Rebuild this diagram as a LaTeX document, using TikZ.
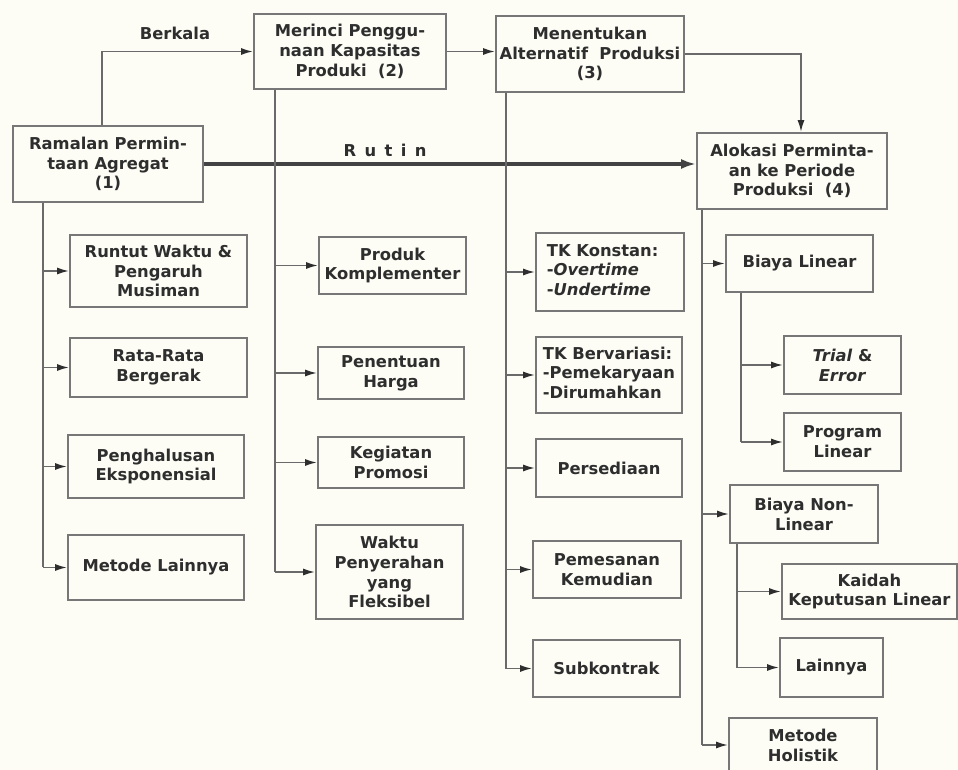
\documentclass[tikz,border=0pt]{standalone}
\usepackage{fontspec}
\setmainfont{DejaVu Sans}
\usetikzlibrary{arrows.meta}
\definecolor{bg}{HTML}{FDFDF6}
\definecolor{txt}{HTML}{2E2E2E}
\definecolor{edge}{HTML}{777777}
\definecolor{wire}{HTML}{6A6A6A}
\tikzset{
  box/.style={draw=edge, line width=1pt, inner sep=0pt, align=center, text=txt,
    font=\fontsize{9.3}{11.3}\selectfont\bfseries},
  wireline/.style={draw=wire, line width=1pt},
  arr/.style={wireline, -{Latex[length=2.4mm,width=1.4mm,color=txt]}},
  bigarr/.style={draw=txt!90, line width=1.8pt, -{Latex[length=3mm,width=2mm]}},
  lbl/.style={text=txt, font=\fontsize{9.3}{11.3}\selectfont\bfseries}
}
% [style]{name}{x1}{y1}{x2}{y2}{text}
\newcommand\boxnode[7][box]{%
  \node[#1, minimum width={(#5-#3)*0.02cm}, minimum height={(#6-#4)*0.02cm}]
    (#2) at ({(#3+#5)/2},{(#4+#6)/2}) {#7};}
\newcommand\leftlines[1]{{\renewcommand\arraystretch{1.0}\setlength\tabcolsep{0pt}\begin{tabular}{l}#1\end{tabular}}}
\begin{document}
\begin{tikzpicture}[x=0.02cm,y=-0.02cm]
\fill[bg] (0,0) rectangle (958,770);
\useasboundingbox (0,0) rectangle (958,770);

% main boxes
\boxnode{b1}{13}{126}{203}{202}{Ramalan Permin-\\taan Agregat\\(1)}
\boxnode{b2}{254}{14}{446}{89}{Merinci Penggu-\\naan Kapasitas\\Produki\ \ (2)}
\boxnode{b3}{496}{16}{684}{92}{Menentukan\\Alternatif\ \ Produksi\\(3)}
\boxnode{b4}{697}{133}{887}{209}{Alokasi Perminta-\\an ke Periode\\Produksi\ \ (4)}

% column 1
\boxnode{a1}{70}{235}{247}{307}{Runtut Waktu \&\\Pengaruh\\Musiman}
\boxnode{a2}{70}{338}{247}{397}{Rata-Rata\\Bergerak}
\boxnode{a3}{68}{435}{244}{498}{Penghalusan\\Eksponensial}
\boxnode{a4}{68}{535}{244}{600}{Metode Lainnya}

% column 2
\boxnode{c1}{319}{237}{466}{294}{Produk\\Komplementer}
\boxnode{c2}{318}{347}{464}{399}{Penentuan\\Harga}
\boxnode{c3}{318}{437}{464}{488}{Kegiatan\\Promosi}
\boxnode{c4}{316}{525}{463}{619}{Waktu\\Penyerahan\\yang\\Fleksibel}

% column 3
\boxnode{d1}{536}{233}{684}{311}{\leftlines{TK Konstan:\\-\textit{Overtime}\\-\textit{Undertime}}\hspace*{0.9em}}
\boxnode{d2}{536}{337}{682}{413}{\leftlines{TK Bervariasi:\\-Pemekaryaan\\-Dirumahkan}}
\boxnode{d3}{536}{439}{682}{497}{Persediaan}
\boxnode{d4}{533}{541}{681}{598}{Pemesanan\\Kemudian}
\boxnode{d5}{533}{640}{680}{697}{Subkontrak}

% column 4
\boxnode{e1}{726}{235}{873}{292}{Biaya Linear}
\boxnode{e2}{784}{336}{901}{394}{\textit{Trial} \&\\\textit{Error}}
\boxnode{e3}{784}{413}{901}{471}{Program\\Linear}
\boxnode{e4}{730}{485}{878}{543}{Biaya Non-\\Linear}
\boxnode{e5}{782}{564}{957}{619}{Kaidah\\Keputusan Linear}
\boxnode{e6}{780}{638}{883}{697}{Lainnya}
\boxnode{e7}{729}{718}{877}{772}{Metode\\Holistik}

% trunk positions
\coordinate (t1) at (43,0);
\coordinate (t2) at (275,0);
\coordinate (t3) at (506,0);
\coordinate (t4) at (702,0);
\coordinate (s1) at (741,0);
\coordinate (s2) at (737,0);
\coordinate (k1) at (102,0);
\coordinate (k3) at (801,0);

% top connectors
\draw[arr] (b1.north -| k1) |- (b2.west);
\node[lbl] (berkala) at (175,33) {Berkala};
\draw[arr] (b2.east) -- (b2.east -| b3.west);
\draw[arr] (b3.east) -| (b4.north -| k3);
\draw[bigarr] (b1.east) -- (b1.east -| b4.west);
\node[lbl] (rutin) at (385,150) {R\,\ u\,\ t\,\ i\,\ n};

% column 1 connectors
\draw[wireline] (b1.south -| t1) -- (a4.west -| t1);
\foreach \n in {a1,a2,a3,a4} \draw[arr] (\n.west -| t1) -- (\n.west);

% column 2
\draw[wireline] (b2.south -| t2) -- (c4.west -| t2);
\foreach \n in {c1,c2,c3,c4} \draw[arr] (\n.west -| t2) -- (\n.west);

% column 3
\draw[wireline] (b3.south -| t3) -- (d5.west -| t3);
\foreach \n in {d1,d2,d3,d4,d5} \draw[arr] (\n.west -| t3) -- (\n.west);

% column 4
\draw[wireline] (b4.south -| t4) -- (e7.west -| t4);
\foreach \n in {e1,e4,e7} \draw[arr] (\n.west -| t4) -- (\n.west);
\draw[wireline] (e1.south -| s1) -- (e3.west -| s1);
\foreach \n in {e2,e3} \draw[arr] (\n.west -| s1) -- (\n.west);
\draw[wireline] (e4.south -| s2) -- (e6.west -| s2);
\foreach \n in {e5,e6} \draw[arr] (\n.west -| s2) -- (\n.west);
\end{tikzpicture}
\end{document}
